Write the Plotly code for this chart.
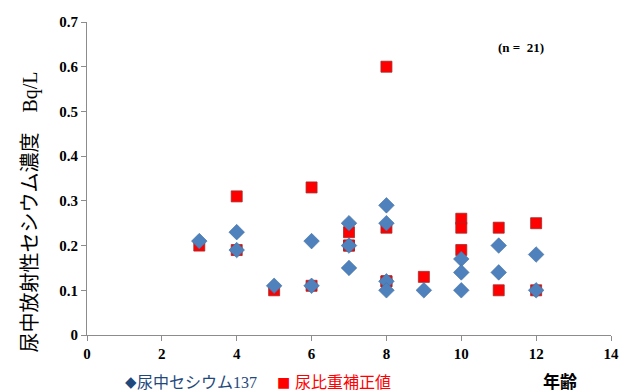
import plotly.graph_objects as go

# Data
cs_age = [3, 4, 4, 5, 6, 6, 7, 7, 7, 8, 8, 8, 8, 9, 10, 10, 10, 11, 11, 12, 12]
cs_val = [0.21, 0.23, 0.19, 0.11, 0.21, 0.11, 0.25, 0.20, 0.15, 0.29, 0.25, 0.12, 0.10,
          0.10, 0.17, 0.14, 0.10, 0.20, 0.14, 0.18, 0.10]

sg_age = [3, 4, 4, 5, 6, 6, 7, 7, 7, 8, 8, 8, 8, 9, 10, 10, 10, 11, 11, 12, 12]
sg_val = [0.20, 0.31, 0.19, 0.10, 0.33, 0.11, 0.23, 0.20, 0.20, 0.60, 0.24, 0.12, 0.12,
          0.13, 0.26, 0.24, 0.19, 0.24, 0.10, 0.25, 0.10]

series_names = ["尿中セシウム137", "尿比重補正値"]
y_title = "尿中放射性セシウム濃度　Bq/L"
x_title = "年齢"
n_label = "(n =  21)"

BLUE = "#4F81BD"
RED = "#FF0000"
SERIF = "Liberation Serif, DejaVu Serif, serif"
CJK = "Liberation Serif, Noto Sans CJK JP, serif"

fig = go.Figure()
fig.add_trace(go.Scatter(
    x=sg_age, y=sg_val, mode="markers", name=series_names[1],
    marker=dict(symbol="square", size=11, color=RED,
                line=dict(color="#A52A2A", width=0.8)),
))
fig.add_trace(go.Scatter(
    x=cs_age, y=cs_val, mode="markers", name=series_names[0],
    marker=dict(symbol="diamond", size=12, color=BLUE,
                line=dict(color="#41709F", width=0.6)),
))

axis_common = dict(
    showgrid=False, zeroline=False, showline=True, linecolor="#8C8C8C", linewidth=1,
    ticks="outside", ticklen=5, tickcolor="#8C8C8C",
    tickfont=dict(family=SERIF, size=15, color="#000000", weight="bold"),
)
fig.update_xaxes(range=[0, 14], dtick=2, tick0=0, **axis_common)
fig.update_yaxes(range=[0, 0.7], dtick=0.1, tick0=0, **axis_common)

W, H = 631, 392
L, R, T, B = 87, 12, 22, 57
pw, ph = W - L - R, H - T - B

# annotations positioned in page pixels (converted to paper coords below)
annotations = [
    dict(text=n_label, x=553, y=47,
         font=dict(family=SERIF, size=13, color="#000", weight="bold")),
    dict(text=y_title, x=15, y=212, textangle=-90,
         font=dict(family=CJK, size=20, color="#000")),
    dict(text=x_title, x=587, y=382,
         font=dict(family=CJK, size=17, color="#000", weight="bold")),
    dict(text="◆", x=124, y=382,
         font=dict(family="DejaVu Sans", size=15, color="#1F497D")),
    dict(text=series_names[0], x=136, y=382, xanchor="left",
         font=dict(family=CJK, size=16, color="#1F497D")),
    dict(text="■", x=286, y=382,
         font=dict(family="DejaVu Sans", size=14, color=RED)),
    dict(text=series_names[1], x=296, y=382, xanchor="left",
         font=dict(family=CJK, size=16, color=RED)),
]
fixed = []
for a in annotations:
    a = dict(a)
    px, py = a["x"], a["y"]
    a.update(xref="paper", yref="paper", showarrow=False,
             x=(px - L) / pw, y=(H - B - py) / ph)
    a.setdefault("yanchor", "middle")
    fixed.append(a)

fig.update_layout(
    width=W, height=H,
    margin=dict(l=L, r=R, t=T, b=B),
    paper_bgcolor="white", plot_bgcolor="white",
    showlegend=False,
    annotations=fixed,
)

fig.write_html(
    "out.html",
    config={"displayModeBar": False},
    post_script="document.body.style.margin='0';document.body.style.overflow='hidden';",
)
